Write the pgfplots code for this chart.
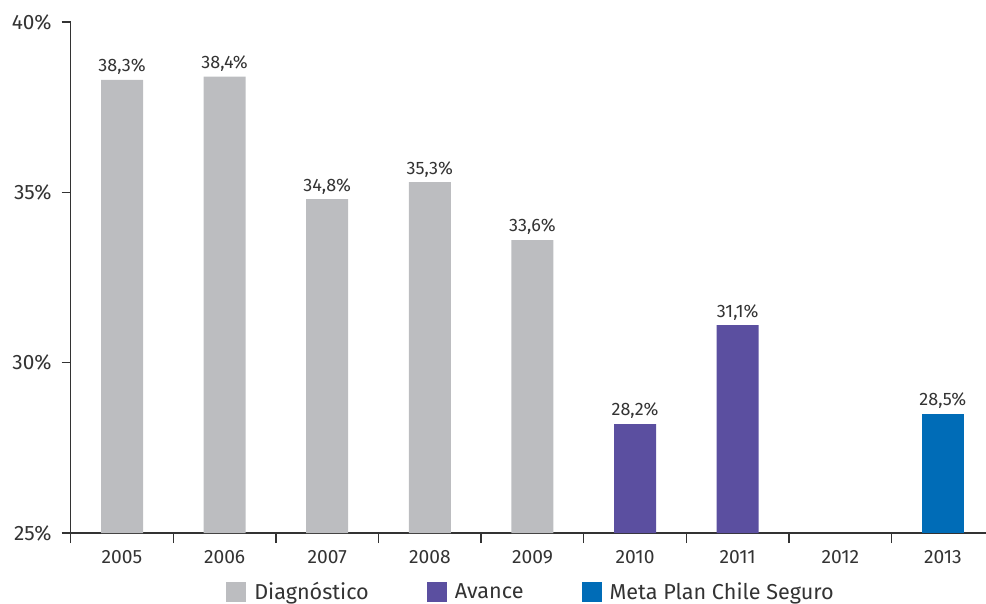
\documentclass[border=0pt]{standalone}
\usepackage{fontspec}
\setmainfont{Fira Sans}
\usepackage{pgfplots}
\pgfplotsset{compat=1.18}
\definecolor{diag}{HTML}{BCBDC0}
\definecolor{avance}{HTML}{5B4FA0}
\definecolor{meta}{HTML}{006CB7}
\definecolor{axisgray}{HTML}{333333}

\begin{document}
\begin{tikzpicture}
\begin{axis}[
  scale only axis,
  width=457.6pt,
  height=255.5pt,
  xmin=-0.5, xmax=8.42,
  ymin=25, ymax=40,
  ybar, bar width=21pt, bar shift=0pt,
  axis x line*=bottom,
  axis y line*=left,
  axis line style={axisgray, line width=0.7pt},
  xtick={0,...,8},
  xticklabels={2005,2006,2007,2008,2009,2010,2011,2012,2013},
  major x tick style={draw=none},
  minor xtick={-0.5,0.5,...,7.5},
  minor x tick style={axisgray, line width=0.7pt},
  minor tick length=5pt,
  ytick={25,30,35,40},
  yticklabels={25\%,30\%,35\%,40\%},
  y tick style={axisgray, line width=0.7pt},
  major tick length=4.5pt,
  tick align=outside,
  x tick label style={font=\fontsize{9.6}{11}\selectfont, text=axisgray, yshift=-0.5pt},
  y tick label style={font=\fontsize{10.4}{12}\selectfont, text=axisgray, xshift=-1.5pt},
  nodes near coords={\pgfmathprintnumber[fixed,fixed zerofill,precision=1,use comma,assume math mode=true]{\pgfplotspointmeta}\%},
  nodes near coords style={font=\fontsize{9}{10}\selectfont, text=axisgray, yshift=-1pt},
  legend style={draw=none, at={(0.504,-0.1155)}, anchor=center,
    legend columns=3, font=\fontsize{10.8}{13}\selectfont, text=axisgray,
    /tikz/every odd column/.append style={column sep=2pt},
    /tikz/every even column/.append style={column sep=27pt}},
  legend image code/.code={\path[#1] (0pt,-5pt) rectangle (10pt,5pt);},
  clip=false,
]
\addplot[fill=diag, draw=none] coordinates {(0,38.3) (1,38.4) (2,34.8) (3,35.3) (4,33.6)};
\addlegendentry{Diagnóstico}
\addplot[fill=avance, draw=none] coordinates {(5,28.2) (6,31.1)};
\addlegendentry{Avance}
\addplot[fill=meta, draw=none] coordinates {(8,28.5)};
\addlegendentry{Meta Plan Chile Seguro}
\coordinate (bl) at (rel axis cs:0,0);
\coordinate (tr) at (rel axis cs:1,1);
\end{axis}
\pgfresetboundingbox
\useasboundingbox ([shift={(-35.35pt,-35pt)}]bl) rectangle ([shift={(0pt,11pt)}]tr);
\end{tikzpicture}
\end{document}
